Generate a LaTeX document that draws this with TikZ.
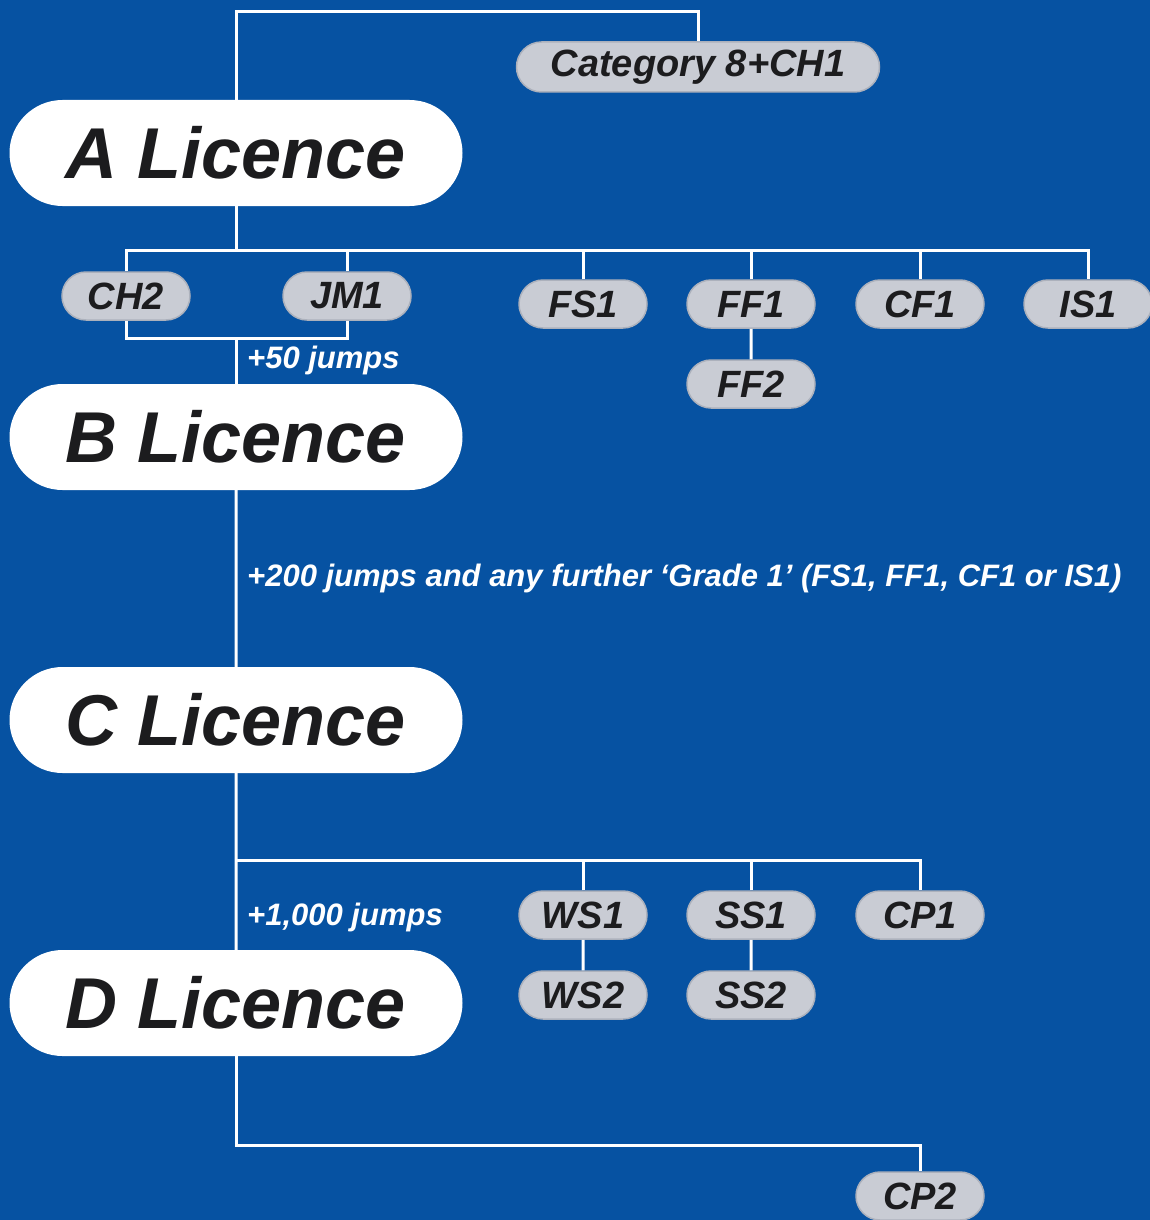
\documentclass[tikz,border=0pt]{standalone}
\usepackage{fontspec}
\setmainfont{Liberation Sans}
\usetikzlibrary{shapes.misc}
\definecolor{bluebg}{RGB}{6,82,162}
\definecolor{pillgray}{RGB}{201,204,212}
\definecolor{pillline}{RGB}{172,177,188}
\definecolor{inkdark}{RGB}{28,28,30}
\tikzset{
  licence/.style = {rounded rectangle, fill = white, minimum width = 453, minimum height = 106, inner sep = 0, text = inkdark, font = \fontsize{72}{72}\selectfont\bfseries\itshape},
  grade/.style = {rounded rectangle, fill = pillgray, draw = pillline, line width = 1.5, minimum width = 128, minimum height = 48, inner sep = 0, text = inkdark, font = \fontsize{38}{38}\selectfont\bfseries\itshape},
  note/.style = {anchor = west, inner sep = 0, text = white, font = \fontsize{31}{31}\selectfont\bfseries\itshape},
  link/.style = {draw = white, line width = 3},
}
\begin{document}
\begin{tikzpicture}[x = 1pt, y = -1pt]
\fill[bluebg] (0,0) rectangle (1150,1220);
\useasboundingbox (0,0) rectangle (1150,1220);
% licences
\node[licence] (A) at (236,153) {A Licence};
\node[licence] (B) at (236,437) {B Licence};
\node[licence] (C) at (236,720) {C Licence};
\node[licence] (D) at (236,1003) {D Licence};
% grades
\node[grade, minimum width = 363, minimum height = 50] (cat) at (698,67) {Category 8+CH1};
\node[grade] (CH2) at (126,296) {CH2};
\node[grade] (JM1) at (347,296) {JM1};
\node[grade] (FS1) at (583,304) {FS1};
\node[grade] (FF1) at (751,304) {FF1};
\node[grade] (CF1) at (920,304) {CF1};
\node[grade] (IS1) at (1088,304) {IS1};
\node[grade] (FF2) at (751,384) {FF2};
\node[grade] (WS1) at (583,915) {WS1};
\node[grade] (SS1) at (751,915) {SS1};
\node[grade] (CP1) at (920,915) {CP1};
\node[grade] (WS2) at (583,995) {WS2};
\node[grade] (SS2) at (751,995) {SS2};
\node[grade] (CP2) at (920,1196) {CP2};
% notes
\node[note] (n50) at (247,360) {+50 jumps};
\node[note] (n200) at (247,578) {+200 jumps and any further ‘Grade 1’ (FS1, FF1, CF1 or IS1)};
\node[note] (n1000) at (247,917) {+1,000 jumps};
% joints
\coordinate (topbar) at (236,12);
\coordinate (abar) at (236,250);
\coordinate (ajoin) at (236,338);
\coordinate (cbar) at (236,860);
\coordinate (dbar) at (236,1145);
% connectors
\draw[link] (A.north) -- (topbar) -| (cat.north);
\draw[link] (A.south) -- (abar);
\draw[link] (CH2.north) |- (abar) -| (IS1.north);
\foreach \g in {JM1,FS1,FF1,CF1} \draw[link] (\g.north) -- (\g.north |- abar);
\draw[link] (FF1) -- (FF2);
\draw[link] (CH2.south) |- (ajoin) -| (JM1.south);
\draw[link] (ajoin) -- (B.north);
\draw[link] (B) -- (C);
\draw[link] (C) -- (D);
\draw[link] (cbar) -| (CP1.north);
\foreach \g in {WS1,SS1} \draw[link] (\g.north) -- (\g.north |- cbar);
\draw[link] (WS1) -- (WS2);
\draw[link] (SS1) -- (SS2);
\draw[link] (D.south) |- (dbar) -| (CP2.north);
\end{tikzpicture}
\end{document}
